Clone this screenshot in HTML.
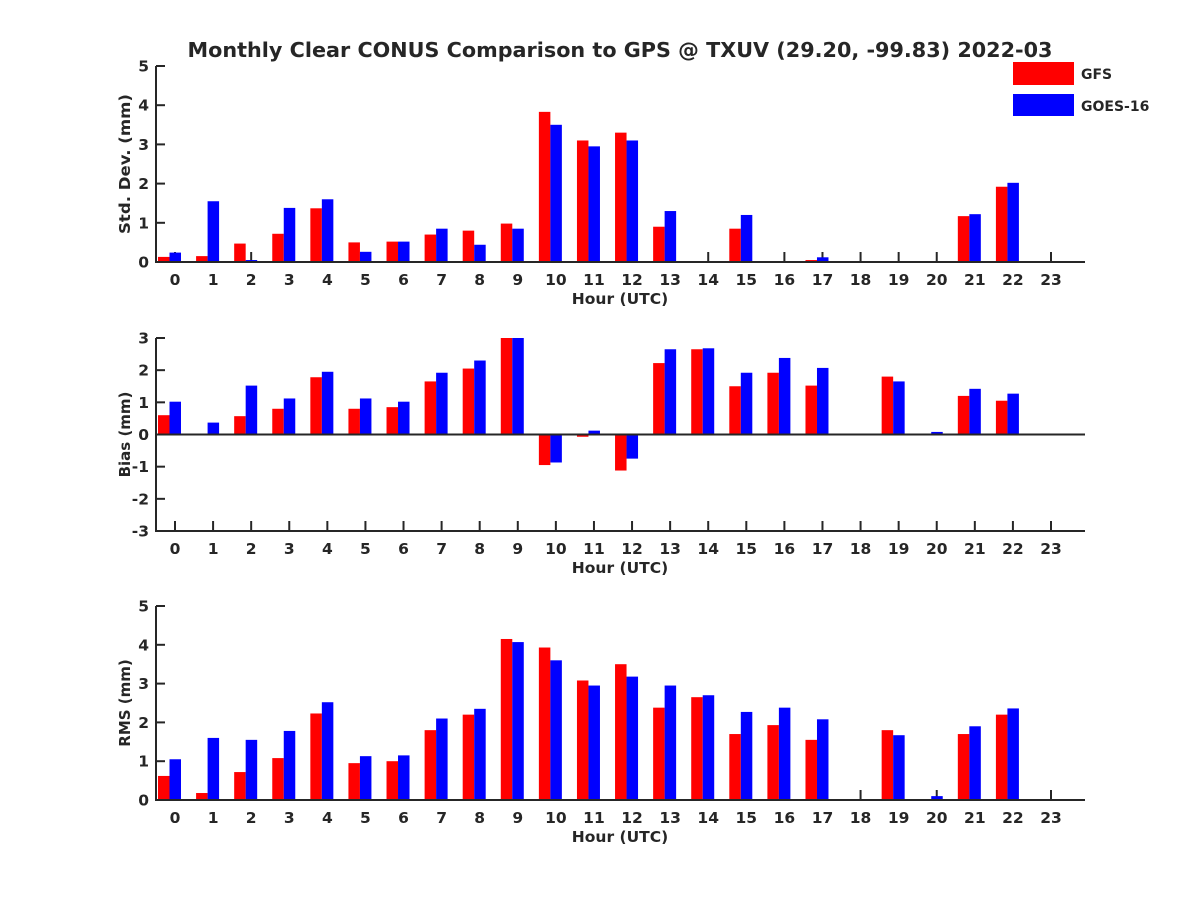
<!DOCTYPE html>
<html><head><meta charset="utf-8"><style>
body{margin:0;background:#fff;}
svg text{font-family:"DejaVu Sans","Liberation Sans",sans-serif;font-weight:bold;fill:#262626;}
</style></head>
<body>
<svg id="chart" width="1200" height="900" xmlns="http://www.w3.org/2000/svg">
<rect width="1200" height="900" fill="#fff"/>
<text x="620" y="57" font-size="20.5" text-anchor="middle" textLength="865" lengthAdjust="spacingAndGlyphs">Monthly Clear CONUS Comparison to GPS @ TXUV (29.20, -99.83) 2022-03</text>
<g>
<rect x="1013" y="62" width="61" height="23" fill="#ff0000"/>
<text x="1081" y="79" font-size="14">GFS</text>
<rect x="1013" y="94" width="61" height="22" fill="#0000ff"/>
<text x="1081" y="111" font-size="14">GOES-16</text>
</g>
</svg>
<script>
const hours = [0,1,2,3,4,5,6,7,8,9,10,11,12,13,14,15,16,17,18,19,20,21,22,23];
const N = null;
const stdGfs  = [0.13,0.15,0.47,0.72,1.37,0.5,0.52,0.7,0.8,0.98,3.83,3.1,3.3,0.9,N,0.85,N,0.05,N,N,N,1.17,1.92,N];
const stdGoes = [0.24,1.55,0.05,1.38,1.6,0.26,0.52,0.85,0.44,0.85,3.5,2.95,3.1,1.3,N,1.2,N,0.12,N,N,N,1.22,2.02,N];
const biasGfs  = [0.6,N,0.57,0.8,1.78,0.8,0.85,1.65,2.05,3.0,-0.95,-0.07,-1.12,2.22,2.65,1.5,1.92,1.52,N,1.8,N,1.2,1.05,N];
const biasGoes = [1.02,0.37,1.52,1.12,1.95,1.12,1.02,1.92,2.3,3.0,-0.87,0.12,-0.75,2.65,2.68,1.92,2.38,2.07,N,1.65,0.08,1.42,1.27,N];
const rmsGfs  = [0.62,0.18,0.72,1.08,2.23,0.95,1.0,1.8,2.2,4.15,3.93,3.08,3.5,2.38,2.65,1.7,1.93,1.55,N,1.8,N,1.7,2.2,N];
const rmsGoes = [1.05,1.6,1.55,1.78,2.52,1.13,1.15,2.1,2.35,4.07,3.6,2.95,3.18,2.95,2.7,2.27,2.38,2.08,N,1.67,0.1,1.9,2.36,N];
const stdTicks = [0,1,2,3,4,5];
const biasTicks = [-3,-2,-1,0,1,2,3];
const rmsTicks = [0,1,2,3,4,5];

const svg = document.getElementById('chart');
const NS = 'http://www.w3.org/2000/svg';
function mk(tag, attrs, parent){const e=document.createElementNS(NS,tag);for(const k in attrs)e.setAttribute(k,attrs[k]);(parent||svg).appendChild(e);return e;}
const X0=156, X1=1085;
function xScale(h){return 175 + h*(1051-175)/23;}

function panel(name, top, bottom, yMin, yMax, ticks, gfs, goes, ylabel, zeroLine, ylen){
  const g = mk('g',{});
  
  
  const y = v => bottom - (v - yMin)/(yMax - yMin)*(bottom - top);
  const base = y(Math.max(yMin,0));
  const tk = mk('g',{stroke:'#262626','stroke-width':2},g);
  
  
  hours.forEach(h=>{
    mk('line',{x1:xScale(h),y1:bottom,x2:xScale(h),y2:bottom-10},tk);
  });
  hours.forEach((h,i)=>{
    const c = xScale(h);
    [[gfs,'#ff0000',-17,'gfs'],[goes,'#0000ff',-5.5,'goes16']].forEach(([arr,col,off,s])=>{
      const v = arr[i]; if(v===null) return;
      const yv = y(v);
      const r = mk('rect',{x:c+off,y:Math.min(yv,base),width:11.5,height:Math.max(Math.abs(base-yv),0.5),fill:col},g);
      
      
    });
  });
  const ax = mk('g',{stroke:'#262626','stroke-width':2},g);
  
  
  mk('line',{x1:X0,y1:top,x2:X0,y2:bottom+1},ax);
  mk('line',{x1:X0-1,y1:bottom,x2:X1,y2:bottom},ax);
  if(zeroLine) mk('line',{x1:X0,y1:y(0),x2:X1,y2:y(0)},ax);
  ticks.forEach(t=>{
    mk('line',{x1:X0,y1:y(t),x2:X0+9,y2:y(t)},ax);
    const tx = mk('text',{x:X0-7,y:y(t)+5.5,'font-size':15.5,'text-anchor':'end'},g);
    tx.textContent = t;
    
    
  });
  hours.forEach(h=>{
    const tx = mk('text',{x:xScale(h),y:bottom+23,'font-size':15.5,'text-anchor':'middle'},g);
    tx.textContent = h;
    
    
  });
  const xt = mk('text',{x:620,y:bottom+42,'font-size':15.5,'text-anchor':'middle'},g);
  xt.textContent = 'Hour (UTC)';
  
  
  const cy=(top+bottom)/2;
  const ya = {x:0,y:0,'font-size':15,'text-anchor':'middle',transform:'translate(130,'+cy+') rotate(-90)'};
  if(ylen){ya.textLength=ylen;ya.lengthAdjust='spacingAndGlyphs';}
  const yt = mk('text',ya,g);
  yt.textContent = ylabel;
  
  
}
panel('std',66,262,0,5,stdTicks,stdGfs,stdGoes,'Std. Dev. (mm)',false,140);
panel('bias',338,531,-3,3,biasTicks,biasGfs,biasGoes,'Bias (mm)',true,0);
panel('rms',606,800,0,5,rmsTicks,rmsGfs,rmsGoes,'RMS (mm)',false,0);
</script>
</body></html>
